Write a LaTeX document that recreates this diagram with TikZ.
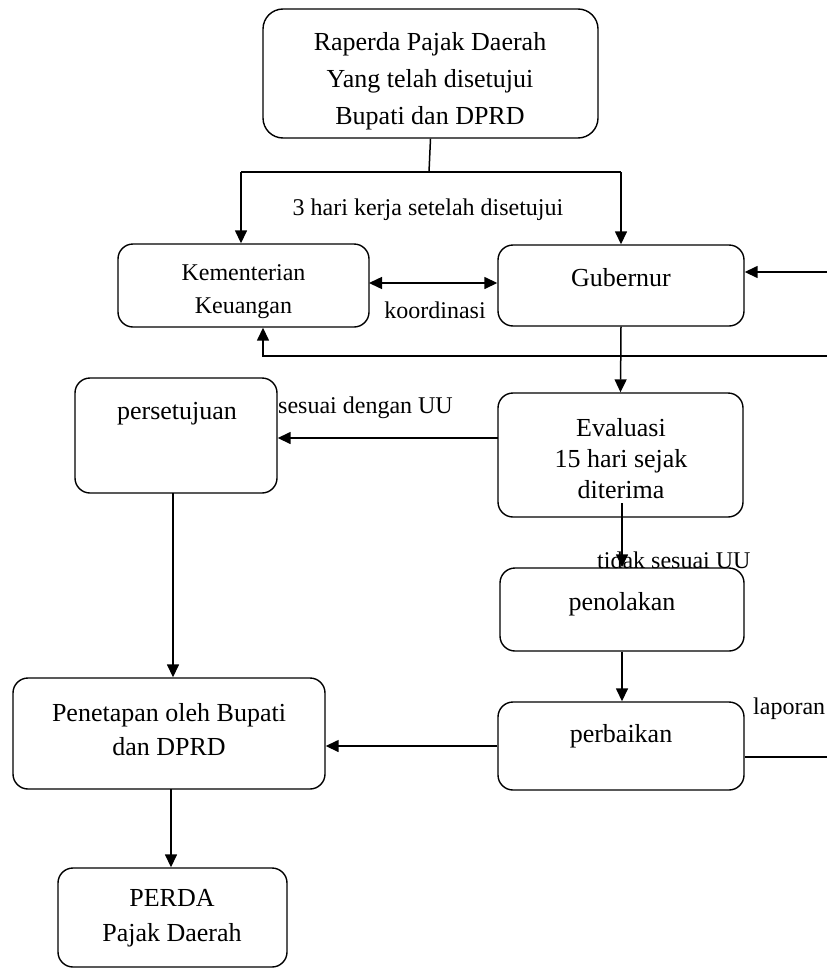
\documentclass[tikz,border=0pt]{standalone}
\usepackage{fontspec}
\setmainfont{Liberation Serif}
\usetikzlibrary{arrows.meta}
\begin{document}
\begin{tikzpicture}[x=1pt,y=-1pt,
  box/.style={draw=black, line width=1.4pt, rounded corners=15pt, inner sep=0pt},
  txt/.style={align=center, inner sep=0pt, font=\fontsize{26}{34}\selectfont},
  lbl/.style={inner sep=0pt, font=\fontsize{24}{28}\selectfont},
  conn/.style={line width=1.5pt},
  arr/.style={line width=1.5pt, -{Triangle[length=13pt,width=12pt]}},
  darr/.style={line width=1.5pt, {Triangle[length=13pt,width=12pt]}-{Triangle[length=13pt,width=12pt]}}]
\useasboundingbox (0,0) rectangle (827,969);

% boxes
\node[box, rounded corners=20pt, minimum width=335pt, minimum height=129pt] (top) at (430.5,73.5) {};
\node[box, minimum width=251pt, minimum height=83pt] (kem) at (243.5,285.5) {};
\node[box, minimum width=246pt, minimum height=81pt] (gub) at (621,285.5) {};
\node[box, minimum width=202pt, minimum height=115pt] (pers) at (176,435.5) {};
\node[box, minimum width=245pt, minimum height=124pt] (eva) at (620.5,455) {};
\node[box, minimum width=244pt, minimum height=83pt] (pol) at (622,609.5) {};
\node[box, minimum width=246pt, minimum height=88pt] (perb) at (621,746) {};
\node[box, minimum width=312pt, minimum height=111pt] (pen) at (169,733.5) {};
\node[box, minimum width=229pt, minimum height=99pt] (perda) at (172.5,917.5) {};

% box texts
\node[txt, font=\fontsize{26}{37}\selectfont] (topT) at (430,81) {Raperda Pajak Daerah\\Yang telah disetujui\\Bupati dan DPRD};
\node[txt, font=\fontsize{24}{33}\selectfont] (kemT) at (243.5,292) {Kementerian\\Keuangan};
\node[txt] (gubT) at (621,278) {Gubernur};
\node[txt] (persT) at (177,414) {persetujuan};
\node[txt, font=\fontsize{26}{31}\selectfont] (evaT) at (621,459) {Evaluasi\\15 hari sejak\\diterima};
\node[txt] (polT) at (622,604) {penolakan};
\node[txt] (perbT) at (621,736) {perbaikan};
\node[txt] (penT) at (169,730) {Penetapan oleh Bupati\\dan DPRD};
\node[txt, font=\fontsize{26}{35}\selectfont] (perdaT) at (172,918) {PERDA\\Pajak Daerah};

% labels
\node[lbl] (l1) at (428,210) {3 hari kerja setelah disetujui};
\node[lbl] (l2) at (435,310) {koordinasi};
\node[lbl, anchor=west] (l3) at (278,408) {sesuai dengan UU};
\node[lbl, anchor=west] (l4) at (597,560) {tidak sesuai UU};
\node[lbl, anchor=west] (l5) at (753,709) {laporan};

% helper coordinates
\coordinate (j) at (429,172);
\coordinate (jL) at (241,172);
\coordinate (jR) at (621,172);
\coordinate (rA) at (827,272);
\coordinate (rB) at (827,356);
\coordinate (kB) at (263,356);
\coordinate (rC) at (827,757);
\coordinate (e1) at (498,438);
\coordinate (e2) at (622,503);
\coordinate (p1) at (173,493);
\coordinate (p2) at (171,789);
\coordinate (k1) at (369,283);

% connectors
\draw[conn] (top.south) -- (j);
\draw[conn] (jL) -- (jR);
\draw[arr] (jL) -- (jL |- kem.north);
\draw[arr] (jR) -- (jR |- gub.north);
\draw[darr] (k1) -- (k1 -| gub.west);
\draw[arr] (rA) -- (rA -| gub.east);
\draw[arr] (rB) -- (kB) -- (kB |- kem.south);
\draw[arr] (gub.south) -- (eva.north);
\draw[arr] (e1) -- (e1 -| pers.east);
\draw[arr] (p1) -- (p1 |- pen.north);
\draw[arr] (e2) -- (e2 |- pol.north);
\draw[arr] (pol.south) -- (pol.south |- perb.north);
\draw[arr] (perb.west) -- (perb.west -| pen.east);
\draw[conn] (rC -| perb.east) -- (rC);
\draw[arr] (p2) -- (p2 |- perda.north);
\end{tikzpicture}
\end{document}
